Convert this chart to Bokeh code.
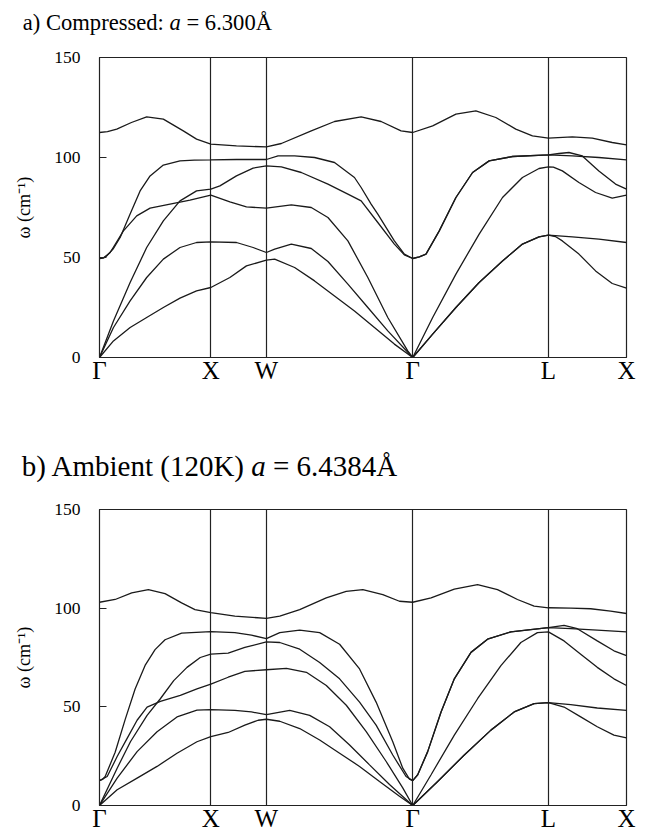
from bokeh.plotting import figure
from bokeh.models import Range1d, FixedTicker, Div
from bokeh.layouts import column
from bokeh.embed import file_html
from bokeh.resources import INLINE

# high-symmetry path positions and labels
K_TICKS = [0, 111.6, 167.3, 314, 450, 528.3]
K_LABELS = ["Γ", "X", "W", "Γ", "L", "X"]
Y_TICKS = [0, 50, 100, 150]

# ---------------- panel a) compressed ----------------
a_k1 = [0, 14, 30.7, 47.3, 64, 80.7, 97.3, 111.6, 130.7, 147.3, 167.3, 175.6, 195.6, 215.6, 235.6, 255.6, 275.6, 295.6, 314,
        334, 357.3, 380.6, 404, 424, 440.6, 450, 457, 464, 480.6, 497.3, 514, 528.3]
a_w1 = [0, 8.3, 15, 20, 25, 29.7, 33.3, 35, 40, 45.8, 48.7, 49.2, 45, 38.3, 30.8, 23.3, 15, 6.7, 0,
        11.7, 25, 37.5, 48.3, 56.7, 60.3, 61.2, 60.5, 58.3, 51.7, 43.3, 37, 34.7]

a_k2 = [0, 14, 30.7, 47.3, 64, 80.7, 97.3, 111.6, 137.3, 154, 167.3, 175.6, 192.3, 212.3, 229, 249, 269, 289, 314,
        334, 357.3, 380.6, 404, 424, 440.6, 450, 474, 500.6, 528.3]
a_w2 = [0, 15, 28.3, 40, 49.2, 55, 57.5, 57.8, 57.5, 55, 52.5, 54.2, 56.7, 54.5, 48, 36.7, 25, 13.3, 0,
        11.7, 25, 37.5, 48.3, 56.7, 60.3, 61.2, 60.3, 59.2, 57.5]

a_k3 = [0, 14, 30.7, 47.3, 64, 80.7, 97.3, 111.6, 120.7, 137.3, 154, 167.3, 182.3, 202.3, 229, 249, 262.3, 279, 295.6, 305.6, 314,
        320.6, 327.3, 340.6, 357.3, 374, 390.6, 414, 450, 474, 500.6, 528.3]
a_w3 = [0, 18.3, 37.5, 55, 68.3, 78.3, 83.3, 84.2, 85.8, 90.8, 94.7, 95.8, 95.3, 92.5, 86.7, 81.7, 78.3, 67.5, 56.7, 51.3, 49.5,
        50.3, 51.7, 63.3, 80, 92.5, 98.3, 100.5, 101.3, 100.8, 100, 98.8]

a_k4 = [0, 4, 10.7, 24, 37.3, 50.7, 70.7, 90.7, 111.6, 130.7, 147.3, 167.3, 192.3, 212.3, 229, 249, 269, 289, 309, 314,
        334, 357.3, 380.6, 404, 424, 440.6, 450, 455, 464, 480.6, 497.3, 514, 528.3]
a_w4 = [49.5, 49.8, 52.5, 63.3, 70.8, 74.7, 76.7, 78.7, 81.2, 77.8, 75.3, 74.7, 76.3, 75, 70, 58.3, 40, 20, 3.3, 0,
        20, 41.7, 61.7, 80, 90, 94.5, 95.3, 95.2, 93.3, 87.5, 82.5, 79.7, 81.2]

a_k5 = [0, 4, 7.3, 14, 20.7, 30.7, 40.7, 50.7, 64, 80.7, 95, 111.6, 137.3, 167.3, 179, 195.6, 215.6, 235.6, 255.6, 262.3, 272.3, 279, 295.6, 305.6, 314,
        320.6, 327.3, 340.6, 357.3, 374, 390.6, 414, 450, 460.6, 470.6, 484, 500.6, 517.3, 528.3]
a_w5 = [49.5, 49.8, 50.8, 54.5, 60, 71.7, 83.3, 90.8, 96.2, 98.3, 98.7, 98.8, 99, 99, 100.8, 100.8, 100, 97.5, 90, 85, 76.7, 71.7, 58.3, 51.7, 49.5,
        50.3, 51.7, 63.3, 80, 92.5, 98.3, 100.5, 101.3, 102, 102.5, 100.8, 93.3, 86.7, 84.2]

a_k6 = [0, 8, 17.3, 32, 47.3, 64, 84, 97.3, 111.6, 137.3, 167.3, 182.3, 212.3, 235.6, 262.3, 282.3, 302.3, 314,
        334, 357.3, 377.3, 397.3, 417.3, 434, 450, 474, 494, 514, 528.3]
a_w6 = [112.5, 112.9, 114.2, 117.5, 120.3, 119.2, 113.3, 109.2, 106.7, 105.8, 105.3, 107, 113.3, 118, 120.3, 118, 113.3, 112.5,
        115.8, 121.7, 123.3, 120, 114.2, 110.8, 109.7, 110.3, 109.7, 107.5, 106.3]

# ---------------- panel b) ambient ----------------
b_k1 = [0, 17.7, 37.7, 57.7, 77.7, 97.7, 111.6, 129, 145.7, 159, 167.3, 180.7, 200.7, 220.7, 240.7, 260.7, 280.7, 300.7, 314,
        339, 365.7, 392.4, 415.7, 435.7, 450, 465.7, 482.4, 499, 515.7, 528.3]
b_w1 = [0, 8, 13.9, 19.8, 26.5, 32.3, 34.9, 37, 40.7, 43.2, 43.7, 42.7, 39, 33.2, 26.5, 19.8, 12.2, 4.7, 0,
        12.2, 25.6, 38.2, 47.4, 51.6, 52.1, 49.9, 44.9, 39.9, 35.7, 34.3]

b_k2 = [0, 17.7, 37.7, 57.7, 77.7, 97.7, 111.6, 135.7, 152.3, 167.3, 190.7, 210.7, 230.7, 250.7, 270.7, 290.7, 314,
        339, 365.7, 392.4, 415.7, 435.7, 450, 472.4, 499, 528.3]
b_w2 = [0, 13.9, 27.3, 37.4, 44.9, 48.3, 48.6, 48.2, 47.4, 46, 48.2, 45.7, 39.9, 30.7, 20.6, 10.6, 0,
        12.2, 25.6, 38.2, 47.4, 51.6, 52.1, 51.1, 49.4, 48.2]

b_k3 = [0, 17.7, 31, 47.7, 61, 74.4, 87.7, 101, 111.6, 129, 145.7, 167.3, 180.7, 200.7, 220.7, 240.7, 260.7, 277.3, 294, 307.3, 314,
        319, 329, 342.4, 355.7, 372.4, 389, 412.4, 450, 472.4, 499, 528.3]
b_w3 = [0, 18.9, 32.3, 45.7, 54.1, 63.3, 70, 75, 76.7, 77.2, 80.1, 82.9, 82.6, 79.2, 72.5, 64.2, 52.4, 40.7, 25.6, 14.7, 12.6,
        15.6, 27.3, 47.4, 64.2, 77.6, 84.3, 88, 90.1, 89.6, 88.9, 88]

b_k4 = [0, 7.7, 17.7, 27.7, 37.7, 47.7, 61, 81, 97.7, 111.6, 129, 145.7, 167.3, 187.4, 207.4, 227.4, 247.4, 267.4, 287.4, 304, 314,
        332.4, 355.7, 379, 402.4, 422.4, 439, 450, 465.7, 482.4, 499, 515.7, 528.3]
b_w4 = [12.6, 14.7, 24.8, 34, 43.2, 49.9, 52.8, 55.8, 59.1, 61.5, 65, 68, 68.8, 69.5, 67.5, 60.8, 50.8, 37.4, 22.3, 8.9, 0,
        15.6, 35.7, 54.1, 70.9, 82.6, 87.6, 88, 83.4, 76.7, 70, 64.2, 60.8]

b_k5 = [0, 3, 5.7, 15.7, 25.7, 35.7, 45.7, 55.7, 65.7, 82.3, 111.6, 135.7, 152.3, 167.3, 180.7, 200.7, 220.7, 240.7, 260.7, 277.3, 294, 304, 310.7, 314,
        319, 329, 342.4, 355.7, 372.4, 389, 412.4, 450, 465.7, 479, 499, 515.7, 528.3]
b_w5 = [12.6, 13.2, 14.7, 27, 43.5, 59, 71, 79, 84, 87.4, 88.1, 87.6, 86.3, 84.6, 87.6, 88.9, 87.6, 81.7, 69.2, 52.4, 32.3, 18.9, 13.4, 12.6,
        15.6, 27.3, 47.4, 64.2, 77.6, 84.3, 88, 90.1, 91.3, 89.6, 83.4, 78.4, 75.9]

b_k6 = [0, 15.7, 32.3, 49, 65.7, 82.3, 95.7, 111.6, 135.7, 167.3, 180.7, 200.7, 227.3, 247.3, 264, 284, 300.7, 314,
        332.4, 355.7, 379, 399, 419, 435.7, 450, 472.4, 492.4, 512.4, 528.3]
b_w6 = [103, 104.4, 107.7, 109.4, 107.4, 102.7, 99.3, 97.7, 96, 94.8, 96, 99.3, 105.2, 108.5, 109.4, 106.9, 103.5, 103,
        105.2, 109.7, 111.9, 109.4, 104.4, 101, 100.2, 100, 99.7, 98.5, 97.3]

# titles: (normal prefix, italic symbol, normal suffix)
TITLE_A = ("a) Compressed:", "a", "= 6.300Å")
TITLE_B = ("b) Ambient (120K)", "a", "= 6.4384Å")

SERIF = "Liberation Serif"
W = 640
LINE = "#1a1a1a"
FRAME = "#222222"


def title_div(height, top_px, left_px, size_px, parts):
    pre, ital, post = parts
    html = (f'<div style="margin:0; padding:0; position:relative; top:{top_px}px; left:{left_px}px; '
            f'font-family:\'{SERIF}\', serif; font-size:{size_px}px; line-height:1; color:black; '
            f'white-space:nowrap;">{pre} <i>{ital}</i> {post}</div>')
    return Div(text=html, width=W, height=height, margin=(0, 0, 0, 0))


def make_panel(bands, height, border_top, border_bottom, border_left):
    p = figure(width=W, height=height, output_backend="svg", toolbar_location=None,
               x_range=Range1d(0, K_TICKS[-1]), y_range=Range1d(0, 150),
               min_border_top=border_top, min_border_bottom=border_bottom,
               min_border_left=border_left, min_border_right=W - border_left - 528,
               title=None, background_fill_color="white", border_fill_color="white")
    p.outline_line_color = FRAME
    p.outline_line_width = 1.2
    p.ygrid.visible = False
    p.xgrid.ticker = FixedTicker(ticks=K_TICKS)
    p.xgrid.grid_line_color = FRAME
    p.xgrid.grid_line_width = 1.2
    p.xgrid.minor_grid_line_color = None

    xa = p.xaxis[0]
    xa.ticker = FixedTicker(ticks=K_TICKS)
    xa.major_label_overrides = {k: lab for k, lab in zip(K_TICKS, K_LABELS)}
    xa.major_tick_line_color = None
    xa.minor_tick_line_color = None
    xa.axis_line_color = FRAME
    xa.major_label_standoff = -7
    xa.major_label_text_font = SERIF
    xa.major_label_text_font_size = "25px"
    xa.major_label_text_color = "black"

    ya = p.yaxis[0]
    ya.ticker = FixedTicker(ticks=Y_TICKS)
    ya.major_tick_in = 7
    ya.major_tick_out = 0
    ya.minor_tick_line_color = None
    ya.major_tick_line_color = FRAME
    ya.axis_line_color = FRAME
    ya.major_label_text_font = SERIF
    ya.major_label_text_font_size = "17.5px"
    ya.major_label_text_color = "black"
    ya.major_label_standoff = 19
    ya.axis_label = "ω (cm⁻¹)"
    ya.axis_label_text_font = SERIF
    ya.axis_label_text_font_style = "normal"
    ya.axis_label_text_font_size = "18px"
    ya.axis_label_text_color = "black"
    ya.axis_label_standoff = 17

    for k, w in bands:
        p.line(k, w, line_color=LINE, line_width=1.3)
    return p


Fa = 22.6
Fb = 29
ta = title_div(44, 12, 22.7, Fa, TITLE_A)
pa = make_panel([(a_k1, a_w1), (a_k2, a_w2), (a_k3, a_w3), (a_k4, a_w4), (a_k5, a_w5), (a_k6, a_w6)],
                396, 13, 83, 98)
tb = title_div(54, 12, 21.7, Fb, TITLE_B)
pb = make_panel([(b_k1, b_w1), (b_k2, b_w2), (b_k3, b_w3), (b_k4, b_w4), (b_k5, b_w5), (b_k6, b_w6)],
                340, 15, 28, 99)

layout = column(ta, pa, tb, pb, spacing=0)
open("out.html", "w").write(file_html(layout, INLINE))
